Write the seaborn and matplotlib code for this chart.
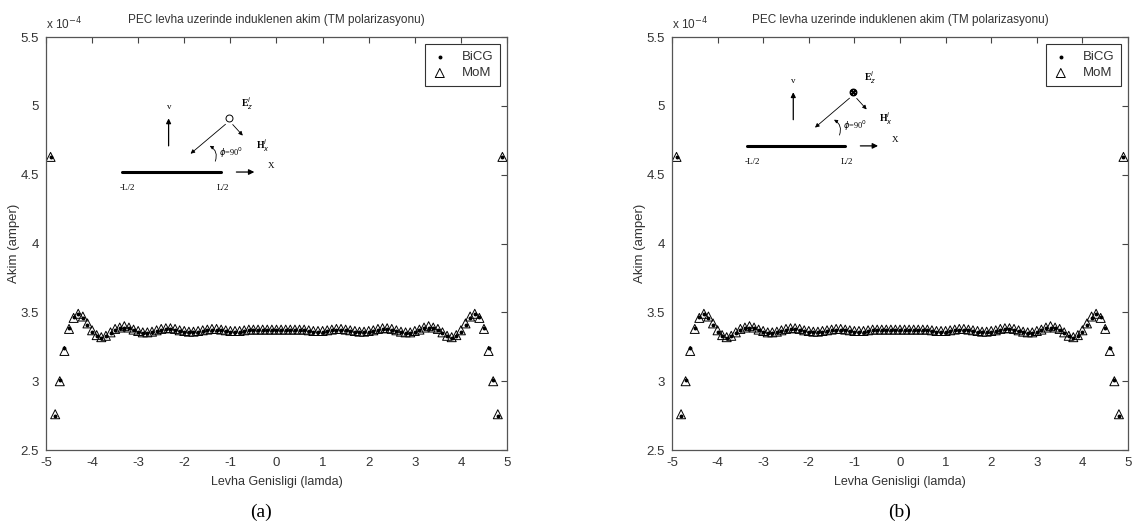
import numpy as np
import matplotlib
matplotlib.use("Agg")
import matplotlib.pyplot as plt
import seaborn as sns

# strip position (lambda) and induced current (x 1e-4 A)
positions = np.round(np.arange(-4.9, 4.95, 0.1), 1)

mom_current = [
    4.63, 2.76, 3.00, 3.22, 3.38, 3.46, 3.49, 3.47, 3.42, 3.37,
    3.335, 3.32, 3.33, 3.355, 3.38, 3.39, 3.40, 3.39, 3.375, 3.365,
    3.355, 3.355, 3.36, 3.37, 3.38, 3.385, 3.385, 3.38, 3.37, 3.365,
    3.36, 3.36, 3.365, 3.37, 3.375, 3.38, 3.38, 3.375, 3.37, 3.365,
    3.365, 3.365, 3.37, 3.375, 3.375, 3.375, 3.375, 3.375, 3.375, 3.375,
    3.375, 3.375, 3.375, 3.375, 3.375, 3.375, 3.37, 3.365, 3.365, 3.365,
    3.37, 3.375, 3.38, 3.38, 3.375, 3.37, 3.365, 3.36, 3.36, 3.365,
    3.37, 3.38, 3.385, 3.385, 3.38, 3.37, 3.36, 3.355, 3.355, 3.365,
    3.375, 3.39, 3.40, 3.39, 3.38, 3.355, 3.33, 3.32, 3.335, 3.37,
    3.42, 3.47, 3.49, 3.46, 3.38, 3.22, 3.00, 2.76, 4.63,
]
bicg_current = [
    4.63, 2.75, 3.01, 3.24, 3.39, 3.47, 3.49, 3.46, 3.41, 3.36,
    3.33, 3.315, 3.325, 3.35, 3.375, 3.385, 3.39, 3.385, 3.37, 3.36,
    3.35, 3.35, 3.355, 3.365, 3.375, 3.38, 3.38, 3.375, 3.365, 3.36,
    3.355, 3.355, 3.36, 3.365, 3.37, 3.375, 3.375, 3.37, 3.365, 3.36,
    3.36, 3.36, 3.365, 3.37, 3.37, 3.37, 3.37, 3.37, 3.37, 3.37,
    3.37, 3.37, 3.37, 3.37, 3.37, 3.37, 3.365, 3.36, 3.36, 3.36,
    3.365, 3.37, 3.375, 3.375, 3.37, 3.365, 3.36, 3.355, 3.355, 3.36,
    3.365, 3.375, 3.38, 3.38, 3.375, 3.365, 3.355, 3.35, 3.35, 3.36,
    3.37, 3.385, 3.39, 3.385, 3.375, 3.35, 3.325, 3.315, 3.33, 3.36,
    3.41, 3.46, 3.49, 3.47, 3.39, 3.24, 3.01, 2.75, 4.63,
]

x_ticks = [-5, -4, -3, -2, -1, 0, 1, 2, 3, 4, 5]
y_ticks = [2.5, 3, 3.5, 4, 4.5, 5, 5.5]
panel_labels = ["(a)", "(b)"]
title = "PEC levha uzerinde induklenen akim (TM polarizasyonu)"

sns.set_style("white")
plt.rcParams["font.family"] = ["Liberation Sans", "DejaVu Sans"]
txt = "#333333"


def draw_diagram(ax, base_y, circle_mark):
    """Little geometry sketch of the strip and incident field (data coords)."""
    serif = dict(family="Liberation Serif", color="black")
    ax.plot([-3.35, -1.2], [base_y, base_y], color="black", lw=2.2)
    ax.text(-3.4, base_y - 0.13, "-L/2", fontsize=6.5, **serif)
    ax.text(-1.3, base_y - 0.13, "L/2", fontsize=6.5, **serif)
    ax.annotate("", xy=(-0.42, base_y), xytext=(-0.93, base_y),
                arrowprops=dict(arrowstyle="-|>", color="black", lw=0.9, mutation_scale=8))
    ax.text(-0.18, base_y + 0.03, "X", fontsize=6.5, **serif)
    ax.annotate("", xy=(-2.34, base_y + 0.41), xytext=(-2.34, base_y + 0.17),
                arrowprops=dict(arrowstyle="-|>", color="black", lw=0.9, mutation_scale=7))
    ax.text(-2.38, base_y + 0.46, "v", fontsize=6.5, **serif)
    cx, cy = -1.02, base_y + 0.39
    ax.plot([cx], [cy], marker=circle_mark, ms=5, mfc="white", mec="black", mew=0.7)
    ax.annotate("", xy=(-1.91, base_y + 0.12), xytext=(cx - 0.04, cy - 0.03),
                arrowprops=dict(arrowstyle="-|>", color="black", lw=0.6, mutation_scale=6))
    ax.annotate("", xy=(-0.69, base_y + 0.25), xytext=(cx + 0.03, cy - 0.03),
                arrowprops=dict(arrowstyle="-|>", color="black", lw=0.6, mutation_scale=6))
    ax.text(-0.78, base_y + 0.47, r"E$^{i}_{z}$", fontsize=7, fontweight="bold", **serif)
    ax.text(-0.45, base_y + 0.17, r"H$^{i}_{x}$", fontsize=7, fontweight="bold", **serif)
    ax.annotate("", xy=(-1.5, base_y + 0.2), xytext=(-1.35, base_y + 0.06),
                arrowprops=dict(arrowstyle="-|>", color="black", lw=0.6, mutation_scale=5,
                                connectionstyle="arc3,rad=0.5"))
    ax.text(-1.25, base_y + 0.12, r"$\phi$=90$^0$", fontsize=6, **serif)


fig = plt.figure(figsize=(11.32, 5.31), dpi=100)
axes = [fig.add_axes([0.0406, 0.1525, 0.4073, 0.7775]),
        fig.add_axes([0.5936, 0.1525, 0.4029, 0.7775])]
diagram_y = [4.52, 4.71]
circle_marks = ["o", "$\\otimes$"]
label_x = [0.466, 0.5]

for ax, lab, by, cm, lx in zip(axes, panel_labels, diagram_y, circle_marks, label_x):
    sns.scatterplot(x=positions, y=bicg_current, ax=ax, marker="o", s=8,
                    color="black", edgecolor="black", linewidth=0, label="BiCG", zorder=3)
    sns.scatterplot(x=positions, y=mom_current, ax=ax, marker="^", s=42,
                    facecolor="none", edgecolor="black", linewidth=0.7, label="MoM", zorder=2)
    ax.set_xlim(-5, 5)
    ax.set_ylim(2.5, 5.5)
    ax.set_xticks(x_ticks)
    ax.set_yticks(y_ticks)
    ax.set_xticklabels([str(v) for v in x_ticks])
    ax.set_yticklabels(["2.5", "3", "3.5", "4", "4.5", "5", "5.5"])
    ax.tick_params(direction="in", top=True, right=True, length=4, width=0.8,
                   labelsize=9.5, colors="#444444", labelcolor=txt, pad=5)
    for sp in ax.spines.values():
        sp.set_color("#555555")
        sp.set_linewidth(0.9)
    ax.set_title(title, fontsize=8.5, color=txt, pad=10)
    ax.set_xlabel("Levha Genisligi (lamda)", fontsize=9, color=txt, labelpad=5)
    ax.set_ylabel("Akim (amper)", fontsize=9.5, color=txt)
    ax.yaxis.set_label_coords(-0.056, 0.5)
    ax.text(0.0, 1.012, r"x 10$^{-4}$", transform=ax.transAxes, fontsize=8.5,
            color=txt, ha="left", va="bottom")
    leg = ax.legend(loc="upper right", fontsize=9.5, frameon=True, fancybox=False,
                    edgecolor="black", borderaxespad=0.55, handletextpad=1.0,
                    labelspacing=0.3, borderpad=0.5, handlelength=1.3)
    leg.get_frame().set_linewidth(0.8)
    for t in leg.get_texts():
        t.set_color(txt)
    draw_diagram(ax, by, cm)
    ax.text(lx, -0.15, lab, transform=ax.transAxes, ha="center", va="center",
            fontsize=14, family="Liberation Serif", color="black")

fig.savefig("out.png", dpi=100)
